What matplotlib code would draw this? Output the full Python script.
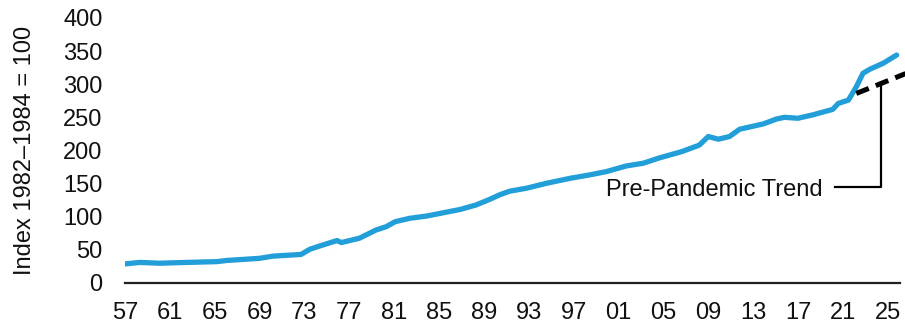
import numpy as np
import matplotlib
matplotlib.use('Agg')
import matplotlib.pyplot as plt

plt.rcParams['font.family'] = ['Liberation Sans', 'DejaVu Sans']

# food price index, 1982-1984 = 100 (fractional years)
years = [1957.0, 1958.3, 1960.1, 1962.5, 1965.2, 1966.1, 1969.0, 1970.2,
         1972.7, 1973.5, 1974.4, 1975.9, 1976.3, 1977.9, 1979.4, 1980.3,
         1981.1, 1982.4, 1983.9, 1985.4, 1986.9, 1988.3, 1989.5, 1990.4,
         1991.3, 1992.8, 1994.6, 1996.7, 1998.4, 1999.9, 2001.7, 2003.2,
         2004.7, 2006.6, 2008.2, 2009.0, 2009.9, 2010.9, 2011.8, 2013.9,
         2015.1, 2015.8, 2017.0, 2018.3, 2020.1, 2020.6, 2021.5, 2022.2,
         2022.8, 2023.4, 2024.6, 2025.8]
index = [28.7, 31.0, 29.8, 31.0, 32.2, 34.0, 37.2, 40.5,
         43.0, 51.0, 56.0, 64.0, 61.0, 67.5, 80.0, 85.0,
         92.5, 97.6, 101.0, 106.0, 111.0, 117.7, 126.0, 133.0,
         138.5, 143.0, 150.5, 158.0, 163.0, 168.0, 176.6, 180.7,
         189.0, 198.0, 208.0, 221.0, 217.0, 221.0, 232.0, 240.0,
         247.5, 250.0, 248.6, 253.6, 262.0, 271.0, 276.0, 296.0,
         316.5, 322.5, 331.6, 344.0]

# pre-pandemic trend extension
trend_years = [2022.2, 2026.6]
trend_index = [286.0, 316.0]

tick_years = list(range(1957, 2026, 4))
tick_labels = ['%02d' % (y % 100) for y in tick_years]
y_ticks = list(range(0, 401, 50))

fs = 17

fig = plt.figure(figsize=(9.05, 3.26), dpi=100)
ax = fig.add_axes([0.138, 0.132, 0.8565, 0.813])

ax.plot(years, index, color='#229ED9', lw=3.8, solid_joinstyle='round',
        solid_capstyle='round', zorder=3)
ax.plot(trend_years, trend_index, color='black', lw=3.6, dashes=(2.7, 1.5),
        clip_on=False, zorder=4)

# callout for the trend line
x_txt, x_elbow = 2020.28, 2024.44
y_elbow = 144.9
y_top = np.interp(x_elbow, trend_years, trend_index)
ax.plot([x_txt, x_elbow, x_elbow], [y_elbow, y_elbow, y_top], color='black',
        lw=1.6, clip_on=False, zorder=2)
ax.text(2019.2, 130.6, 'Pre-Pandemic Trend', ha='right', va='baseline',
        fontsize=fs, color='#111111')

ax.set_xlim(1957.0, 2026.1)
ax.set_ylim(0, 400)
ax.set_xticks(tick_years)
ax.set_xticklabels(tick_labels)
ax.set_yticks(y_ticks)
ax.tick_params(axis='both', length=0, labelsize=fs, colors='#111111')
ax.tick_params(axis='x', pad=14)
ax.tick_params(axis='y', pad=16)
ax.set_ylabel('Index 1982\u20131984 = 100', fontsize=fs, color='#111111',
              labelpad=20)

for s in ['top', 'right', 'left']:
    ax.spines[s].set_visible(False)
ax.spines['bottom'].set_color('#222222')
ax.spines['bottom'].set_linewidth(1.6)

fig.savefig('out.png', dpi=100)
